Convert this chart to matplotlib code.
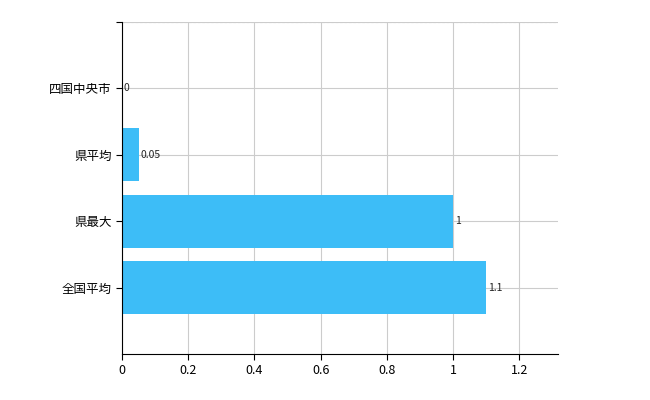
import matplotlib
matplotlib.use("Agg")
import matplotlib.pyplot as plt

plt.rcParams['font.family'] = ['Noto Sans CJK JP', 'DejaVu Sans']

categories = ["全国平均", "県最大", "県平均", "四国中央市"]
values = [1.1, 1.0, 0.05, 0.0]
value_labels = ["1.1", "1", "0.05", "0"]
xticks = [0, 0.2, 0.4, 0.6, 0.8, 1.0, 1.2]
xtick_labels = ["0", "0.2", "0.4", "0.6", "0.8", "1", "1.2"]

fig = plt.figure(figsize=(6.5, 4), dpi=100)
ax = fig.add_axes([122 / 650, 46 / 400, 436 / 650, 332 / 400])

ypos = list(range(len(categories)))
ax.barh(ypos, values, height=0.8, color="#3dbdf7", zorder=2)
for y, v, lab in zip(ypos, values, value_labels):
    ax.text(v + 0.005, y, lab, va="center", ha="left", fontsize=7.5, color="#222222")

ax.set_xlim(0, 1.317)
ax.set_ylim(-1, 4)
ax.set_xticks(xticks)
ax.set_xticklabels(xtick_labels, fontsize=9)
ax.set_yticks(ypos + [4])
ax.set_yticklabels(categories + [""], fontsize=9)

ax.grid(True, color="#cccccc", linewidth=0.8, zorder=0)
for s in ["top", "right"]:
    ax.spines[s].set_visible(False)
ax.axhline(4, color="#cccccc", linewidth=0.8, linestyle=(0, (2, 2)))
ax.tick_params(length=4, width=0.8)

fig.savefig("out.png", dpi=100)
